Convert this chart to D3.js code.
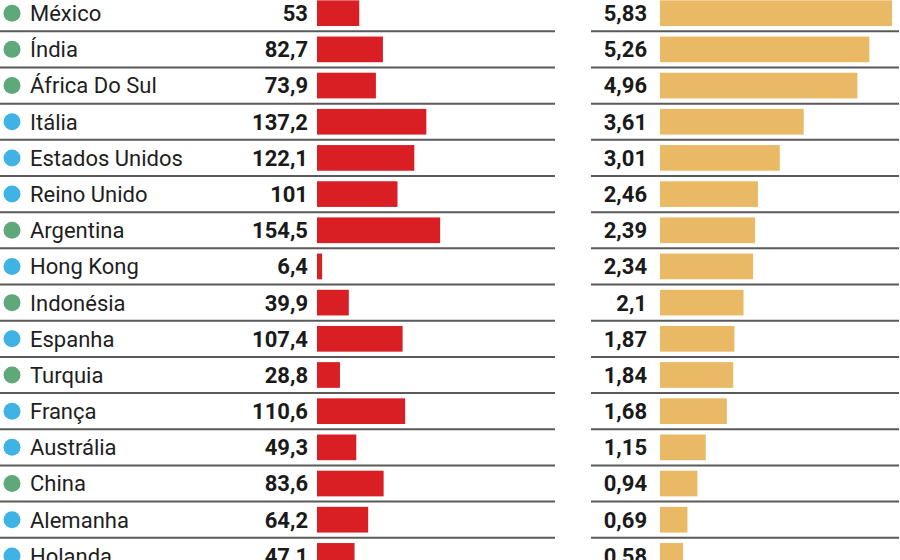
<!DOCTYPE html>
<html>
<head>
<meta charset="utf-8">
<script src="https://cdn.jsdelivr.net/npm/d3@7"></script>
<style>
  html, body { margin: 0; padding: 0; background: #fff; overflow: hidden; }
  svg { display: block; }
</style>
</head>
<body>
<svg id="chart" width="900" height="560"></svg>
<script>
const countries = ["México","Índia","África Do Sul","Itália","Estados Unidos","Reino Unido","Argentina","Hong Kong","Indonésia","Espanha","Turquia","França","Austrália","China","Alemanha","Holanda"];
const groups = ["em","em","em","dev","dev","dev","em","dev","em","dev","em","dev","dev","em","dev","dev"];
const leftValues = [53, 82.7, 73.9, 137.2, 122.1, 101, 154.5, 6.4, 39.9, 107.4, 28.8, 110.6, 49.3, 83.6, 64.2, 47.1];
const leftLabels = ["53","82,7","73,9","137,2","122,1","101","154,5","6,4","39,9","107,4","28,8","110,6","49,3","83,6","64,2","47,1"];
const rightValues = [5.83, 5.26, 4.96, 3.61, 3.01, 2.46, 2.39, 2.34, 2.1, 1.87, 1.84, 1.68, 1.15, 0.94, 0.69, 0.58];
const rightLabels = ["5,83","5,26","4,96","3,61","3,01","2,46","2,39","2,34","2,1","1,87","1,84","1,68","1,15","0,94","0,69","0,58"];

const rows = countries.map((c, i) => ({
  country: c, group: groups[i],
  lv: leftValues[i], ll: leftLabels[i],
  rv: rightValues[i], rl: rightLabels[i]
}));

const svg = d3.select("#chart");
const step = 36.18;
const y = d3.scaleBand()
  .domain(countries)
  .range([-4.9, -4.9 + step * countries.length])
  .paddingInner(0.29)
  .paddingOuter(0.145);

const xL = d3.scaleLinear().domain([0, 160]).range([317, 317 + 0.797 * 160]);
const xR = d3.scaleLinear().domain([0, 6]).range([660, 660 + 39.8 * 6]);
const dotColor = d3.scaleOrdinal().domain(["em","dev"]).range(["#5fa87a", "#3fb4e4"]);

const center = d => y(d.country) + y.bandwidth() / 2;
const lineY = d => y(d.country) + y.bandwidth() + y.step() * 0.145;

// separators
const seps = svg.append("g");
seps.selectAll("line.l").data(rows).join("line")
  .attr("x1", 0).attr("x2", 555)
  .attr("y1", lineY).attr("y2", lineY)
  .attr("stroke", "#5a5a5a").attr("stroke-width", 2);
seps.selectAll("line.r").data(rows).join("line")
  .attr("x1", 591).attr("x2", 899)
  .attr("y1", lineY).attr("y2", lineY)
  .attr("stroke", "#5a5a5a").attr("stroke-width", 2);

const g = svg.append("g").selectAll("g").data(rows).join("g");

g.append("circle")
  .attr("cx", 12).attr("cy", center).attr("r", 8.5)
  .attr("fill", d => dotColor(d.group));

g.append("text")
  .attr("x", 30).attr("y", center).attr("dy", "0.36em")
  .attr("font-family", "Roboto, 'Liberation Sans', sans-serif")
  .attr("font-size", 22).attr("fill", "#1e1e1e")
  .text(d => d.country);

g.append("text")
  .attr("x", 308).attr("y", center).attr("dy", "0.36em")
  .attr("text-anchor", "end")
  .attr("font-family", "Roboto, 'Liberation Sans', sans-serif")
  .attr("font-weight", "bold")
  .attr("font-size", 22).attr("fill", "#1a1a1a")
  .text(d => d.ll);

g.append("rect")
  .attr("x", xL(0)).attr("y", d => y(d.country))
  .attr("width", d => xL(d.lv) - xL(0)).attr("height", y.bandwidth())
  .attr("fill", "#d91f24");

g.append("text")
  .attr("x", 647).attr("y", center).attr("dy", "0.36em")
  .attr("text-anchor", "end")
  .attr("font-family", "Roboto, 'Liberation Sans', sans-serif")
  .attr("font-weight", "bold")
  .attr("font-size", 22).attr("fill", "#1a1a1a")
  .text(d => d.rl);

g.append("rect")
  .attr("x", xR(0)).attr("y", d => y(d.country))
  .attr("width", d => xR(d.rv) - xR(0)).attr("height", y.bandwidth())
  .attr("fill", "#e9b966");
</script>
</body>
</html>
